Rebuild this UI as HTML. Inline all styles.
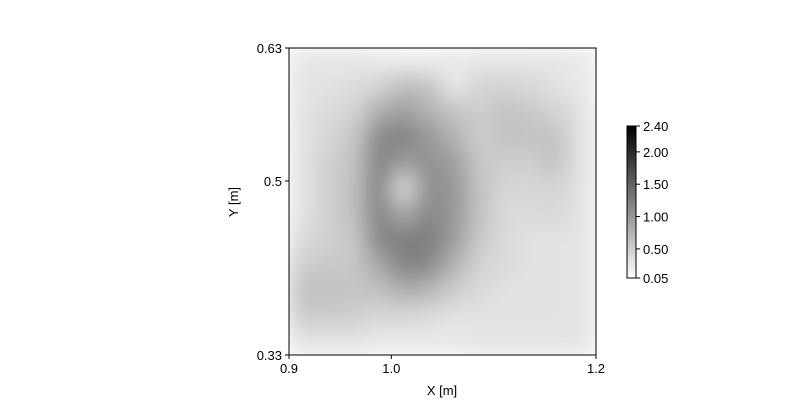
<!DOCTYPE html>
<html><head><meta charset="utf-8"><style>
body{margin:0;background:#fff}
svg{display:block;font-family:"Liberation Sans","DejaVu Sans",sans-serif}
</style></head><body>
<svg id="chart" width="800" height="400">
<defs>
<filter id="blur" x="289" y="48" width="307" height="307" filterUnits="userSpaceOnUse"><feGaussianBlur stdDeviation="11" edgeMode="duplicate"/></filter>
<clipPath id="clip"><rect x="289" y="48" width="307" height="307"/></clipPath>
<linearGradient id="cbg" x1="0" y1="1" x2="0" y2="0"><stop offset="0" stop-color="#fff"/><stop offset="1" stop-color="#000"/></linearGradient>
</defs>
<g clip-path="url(#clip)"><g id="cells" filter="url(#blur)"></g></g>
<rect x="289" y="48" width="307" height="307" fill="none" stroke="#000" stroke-width="1"/>
<g id="axes"></g>
<text x="442" y="395" font-size="13" text-anchor="middle">X [m]</text>
<text x="238" y="202" font-size="13" text-anchor="middle" transform="rotate(-90 238 202)">Y [m]</text>
<rect x="627" y="126" width="9" height="152" fill="url(#cbg)" stroke="#000" stroke-width="1"/>
<g id="cbar"></g>
</svg>
<script>
const xTicks=[0.9,1.0,1.2];
const xTickLabels=["0.9","1.0","1.2"];
const yTicks=[0.33,0.5,0.63];
const yTickLabels=["0.33","0.5","0.63"];
const cbTicks=[0.05,0.5,1.0,1.5,2.0,2.4];
const cbTickLabels=["0.05","0.50","1.00","1.50","2.00","2.40"];
const gridValues=[
[0.28,0.28,0.28,0.25,0.22,0.22,0.25,0.28,0.28,0.28,0.28,0.25],
[0.3,0.32,0.35,0.45,0.65,0.6,0.25,0.45,0.45,0.4,0.32,0.25],
[0.3,0.38,0.45,0.8,0.95,0.75,0.6,0.5,0.6,0.55,0.45,0.3],
[0.3,0.42,0.55,1.15,1.2,1.0,0.75,0.5,0.6,0.6,0.6,0.3],
[0.3,0.48,0.6,1.2,0.95,1.05,0.95,0.55,0.5,0.5,0.6,0.3],
[0.3,0.48,0.62,1.2,0.4,1.1,1.0,0.6,0.42,0.42,0.45,0.3],
[0.3,0.48,0.62,1.2,0.85,1.15,1.0,0.6,0.38,0.38,0.4,0.3],
[0.38,0.48,0.55,1.15,1.25,1.25,0.95,0.55,0.38,0.32,0.32,0.3],
[0.5,0.55,0.55,0.85,1.2,1.15,0.75,0.45,0.38,0.32,0.32,0.3],
[0.62,0.62,0.58,0.62,0.8,0.72,0.5,0.38,0.32,0.32,0.32,0.3],
[0.52,0.52,0.5,0.42,0.42,0.38,0.32,0.32,0.32,0.32,0.32,0.3],
[0.3,0.3,0.3,0.25,0.25,0.25,0.25,0.3,0.3,0.3,0.3,0.3]
];
const NS="http://www.w3.org/2000/svg";
const X0=289,X1=596,Y0=48,Y1=355,vMin=0.05,vMax=2.4;
const xScale=v=>X0+(v-0.9)/(1.2-0.9)*(X1-X0);
const yScale=v=>Y1-(v-0.33)/(0.63-0.33)*(Y1-Y0);
const cbScale=v=>278-(v-vMin)/(vMax-vMin)*152;
function colorOf(v){const t=Math.max(0,Math.min(1,(v-vMin)/(vMax-vMin)));const g=Math.round(255*(1-t));return `rgb(${g},${g},${g})`;}
function mk(tag,attrs){const e=document.createElementNS(NS,tag);for(const k in attrs)e.setAttribute(k,attrs[k]);return e;}
const cells=document.getElementById('cells');
const rows=gridValues.length,cols=gridValues[0].length;
const cw=(X1-X0)/cols,ch=(Y1-Y0)/rows;
gridValues.forEach((row,r)=>row.forEach((v,c)=>{
  const e=mk('rect',{x:X0+c*cw-0.5,y:Y0+r*ch-0.5,width:cw+1,height:ch+1,fill:colorOf(v)});
  
  
  cells.appendChild(e);
}));
const axes=document.getElementById('axes');
xTicks.forEach((t,i)=>{
  const x=xScale(t);
  const l=mk('line',{x1:x,x2:x,y1:Y1,y2:Y1+4,stroke:'#000'});
  
  
  axes.appendChild(l);
  const tx=mk('text',{x:x,y:Y1+18,'font-size':13,'text-anchor':'middle'});
  tx.textContent=xTickLabels[i];
  
  
  axes.appendChild(tx);
});
yTicks.forEach((t,i)=>{
  const y=yScale(t);
  const l=mk('line',{x1:X0-4,x2:X0,y1:y,y2:y,stroke:'#000'});
  
  
  axes.appendChild(l);
  const tx=mk('text',{x:X0-7,y:y+5,'font-size':13,'text-anchor':'end'});
  tx.textContent=yTickLabels[i];
  
  
  axes.appendChild(tx);
});
const cb=document.getElementById('cbar');
cbTicks.forEach((t,i)=>{
  const y=cbScale(t);
  const l=mk('line',{x1:636,x2:640,y1:y,y2:y,stroke:'#000'});
  
  
  cb.appendChild(l);
  const tx=mk('text',{x:643,y:y+5,'font-size':13});
  tx.textContent=cbTickLabels[i];
  
  
  cb.appendChild(tx);
});
</script>
</body></html>
